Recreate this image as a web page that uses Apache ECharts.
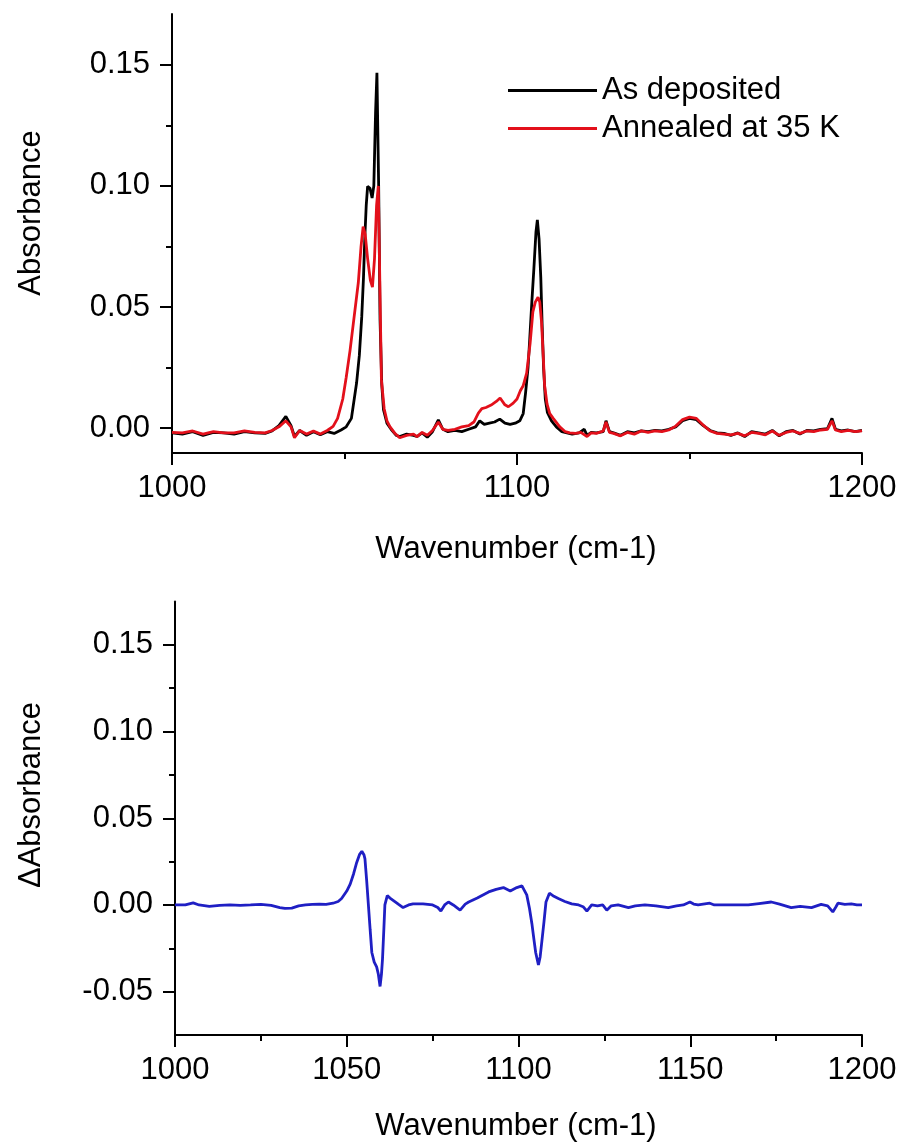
<!DOCTYPE html>
<html><head><meta charset="utf-8">
<script src="https://cdn.jsdelivr.net/npm/echarts@6/dist/echarts.min.js"></script>
<style>html,body{margin:0;padding:0;background:#fff}#c{width:907px;height:1144px}</style>
</head><body><div id="c"></div><script>
// ---- data ----
const asDepWn = [1000,1003,1006,1009,1012,1015,1018,1021,1024,1027,1029,1031,1033,1034.5,1035.5,1037,1039,1041,1043,1045,1047,1049,1050.5,1052,1053.5,1054.3,1055,1055.5,1055.9,1056.3,1056.7,1057.4,1058,1058.5,1059,1059.4,1059.9,1060.3,1060.8,1061.3,1062.3,1063.5,1065,1066,1068,1070,1071,1072.5,1074,1075.5,1077.2,1078.5,1080,1082,1084,1086,1088,1089.2,1090.5,1092,1093.5,1095,1096.5,1098,1099.5,1100.8,1101.8,1102.5,1103.2,1103.7,1104.3,1104.9,1105.5,1105.9,1106.4,1106.9,1107.3,1107.7,1108.2,1108.8,1110,1111.4,1113,1114.5,1116,1118,1119.5,1120.3,1121.5,1123,1125,1125.8,1126.8,1128,1130,1132,1134,1136,1138,1140,1142,1144,1146,1148,1150,1152,1154,1156,1158,1160,1162,1164,1166,1168,1170,1172,1174,1176,1178,1180,1182,1184,1186,1188,1190,1191.3,1192.3,1194,1196,1198,1200];
const asDepAbs = [-0.002,-0.0025,-0.0015,-0.003,-0.0018,-0.002,-0.0025,-0.0015,-0.002,-0.0022,-0.0012,0.001,0.0048,0.001,-0.0035,-0.001,-0.003,-0.0015,-0.0028,-0.0015,-0.0022,-0.0008,0.0005,0.004,0.0186,0.03,0.046,0.062,0.079,0.092,0.0998,0.099,0.095,0.1,0.13,0.1467,0.1,0.045,0.018,0.0076,0.002,-0.0005,-0.003,-0.0035,-0.0025,-0.003,-0.0035,-0.002,-0.0038,-0.0015,0.0034,-0.0005,-0.0015,-0.001,-0.0015,-0.0005,0.0005,0.003,0.0015,0.002,0.0025,0.0037,0.002,0.0015,0.002,0.003,0.006,0.0147,0.025,0.037,0.052,0.066,0.081,0.086,0.078,0.062,0.042,0.025,0.012,0.0065,0.003,0.0005,-0.0015,-0.002,-0.0025,-0.002,-0.0005,-0.003,-0.0018,-0.002,-0.0015,0.003,-0.0015,-0.002,-0.003,-0.0015,-0.002,-0.0012,-0.0015,-0.001,-0.0012,-0.0005,0.0005,0.003,0.004,0.0035,0.001,-0.001,-0.002,-0.0022,-0.003,-0.002,-0.0035,-0.0015,-0.002,-0.0025,-0.001,-0.0032,-0.0015,-0.001,-0.0025,-0.001,-0.0012,-0.0005,-0.0002,0.004,-0.0005,-0.0012,-0.0008,-0.0015,-0.001];

const annealWn = [1000,1003,1006,1009,1012,1015,1018,1021,1024,1027,1029,1031,1033,1034.5,1035.5,1037,1039,1041,1043,1045,1046.7,1048,1049.5,1050.5,1051.6,1052.8,1054,1054.8,1055.4,1056,1056.7,1057.5,1058.1,1058.7,1059.3,1059.8,1060.3,1060.7,1061.5,1062.3,1063.2,1064.5,1066,1068,1070,1071,1072.5,1074,1075.5,1077.2,1078.5,1080,1082,1084,1086,1087.5,1088.8,1089.8,1091,1092.5,1094,1095.1,1096.5,1097.5,1098.9,1100,1101,1101.8,1102.8,1103.8,1104.6,1105.3,1106.1,1106.6,1107.1,1107.6,1108,1108.7,1109.5,1110.5,1112.4,1114,1115.3,1117,1118.5,1120.3,1121.5,1123,1125,1125.8,1126.8,1128,1130,1132,1134,1136,1138,1140,1142,1144,1146,1148,1150,1152,1154,1156,1158,1160,1162,1164,1166,1168,1170,1172,1174,1176,1178,1180,1182,1184,1186,1188,1190,1191.3,1192.3,1194,1196,1198,1200];
const annealAbs = [-0.0018,-0.002,-0.0012,-0.0025,-0.0015,-0.002,-0.002,-0.0012,-0.0018,-0.002,-0.001,0.0005,0.003,0.0005,-0.004,-0.001,-0.0025,-0.0012,-0.0025,-0.001,0.0007,0.004,0.012,0.021,0.032,0.046,0.06,0.075,0.0832,0.08,0.07,0.061,0.0582,0.07,0.092,0.1,0.055,0.02,0.008,0.003,0.0005,-0.002,-0.004,-0.003,-0.0025,-0.0035,-0.0018,-0.003,-0.001,0.0025,-0.0005,-0.001,-0.0005,0.0005,0.001,0.0025,0.0062,0.008,0.0085,0.0095,0.011,0.0124,0.0096,0.0088,0.0103,0.012,0.0155,0.0175,0.0227,0.035,0.048,0.052,0.054,0.052,0.044,0.03,0.0176,0.01,0.006,0.004,0.0005,-0.0015,-0.002,-0.0022,-0.0018,-0.0035,-0.002,-0.0022,-0.0012,0.0025,-0.0018,-0.0022,-0.0032,-0.0018,-0.0025,-0.0012,-0.0018,-0.0012,-0.0015,-0.0008,0.0008,0.0035,0.0045,0.004,0.0012,-0.0012,-0.0022,-0.0025,-0.0028,-0.0022,-0.0032,-0.0018,-0.0022,-0.0028,-0.0012,-0.003,-0.0018,-0.0012,-0.0022,-0.0012,-0.0015,-0.0008,-0.0005,0.003,-0.0008,-0.0015,-0.001,-0.0015,-0.0012];

const diffWn = [1000,1003,1005.3,1007,1010,1013,1016,1019,1022,1025,1028,1030.5,1032,1034,1036,1038,1040,1042,1044,1046,1047.5,1048.5,1050,1051,1052,1052.9,1053.7,1054.4,1055,1055.3,1055.8,1056.3,1056.8,1057.3,1058,1058.7,1059.2,1059.7,1060.1,1060.4,1060.8,1061.1,1061.8,1062.6,1063.5,1065,1066.4,1068,1069.3,1072.2,1075,1076.5,1077.4,1078.5,1079.6,1081,1083,1084.5,1085.5,1088,1091.3,1093.5,1095.6,1097.6,1099.5,1101,1102.4,1103.2,1103.9,1104.5,1105,1105.8,1106.3,1106.8,1107.4,1108,1109,1110.3,1111.6,1113.5,1115.5,1117.5,1118.8,1119.9,1121.3,1123,1124.5,1125.7,1127,1129,1132,1134,1136.8,1140,1143.6,1146,1148,1149.9,1151,1152.3,1155.7,1157,1159.1,1163,1166.9,1170,1173.6,1176,1179.4,1182,1185.3,1188.1,1190,1191.5,1192.3,1193,1195,1196.9,1198.5,1200];
const diffAbs = [0,0,0.0012,0,-0.0008,-0.0003,0,-0.0002,0,0.0003,-0.0003,-0.0015,-0.002,-0.0018,-0.0005,0,0.0003,0.0005,0.0003,0.001,0.002,0.0037,0.008,0.012,0.018,0.0245,0.029,0.031,0.029,0.0266,0.014,0,-0.014,-0.0274,-0.033,-0.0357,-0.04,-0.047,-0.04,-0.0315,-0.014,0,0.0054,0.004,0.0027,0.0005,-0.0015,0,0.0006,0.0006,0,-0.0015,-0.0035,0,0.0017,0,-0.003,0.0005,0.0017,0.004,0.0075,0.009,0.01,0.008,0.01,0.011,0.0058,-0.002,-0.0108,-0.02,-0.0274,-0.0346,-0.03,-0.021,-0.01,0.0017,0.0068,0.005,0.0037,0.002,0.0006,0,-0.001,-0.0035,0,-0.0005,0,-0.003,-0.0005,0,-0.0015,-0.0005,0,-0.0005,-0.0015,-0.0005,0,0.0017,0.0005,0,0.001,0,0,0,0,0.0008,0.0017,0.0005,-0.0015,-0.0008,-0.0015,0.0003,-0.0005,-0.004,-0.0015,0.001,0.0003,0.0006,0,0];

const topYLabels = [0, 0.05, 0.10, 0.15];
const topYMinor = [0.025, 0.075, 0.125];
const botYLabels = [-0.05, 0, 0.05, 0.10, 0.15];
const botYMinor = [-0.025, 0.025, 0.075, 0.125];
const legendNames = ['As deposited', 'Annealed at 35 K'];

// ---- chart ----
const FONT = "'Liberation Sans', Arial, sans-serif";
const zip = (a, b) => a.map((x, i) => [x, b[i]]);
const axLine = {show: true, onZero: false, lineStyle: {color: '#000', width: 2}};
const tickStyle = {color: '#000', width: 2};
const lab = {fontSize: 31, color: '#000', fontFamily: FONT};

function xAx(grid, interval) {
  return {type: 'value', gridIndex: grid, min: 1000, max: 1200, interval: interval,
    axisLine: axLine,
    axisTick: {show: true, inside: false, length: 12, lineStyle: tickStyle},
    minorTick: {show: true, splitNumber: 2, length: 6, lineStyle: tickStyle},
    axisLabel: Object.assign({margin: 20, showMinLabel: true, showMaxLabel: true, formatter: v => String(v)}, lab),
    splitLine: {show: false}, minorSplitLine: {show: false}};
}
function yAx(grid, min, max, labels) {
  return {type: 'value', gridIndex: grid, position: 'left', min: min, max: max,
    axisLine: axLine,
    axisTick: {show: true, inside: false, length: 12, lineStyle: tickStyle, customValues: labels},
    axisLabel: Object.assign({margin: 22, customValues: labels, formatter: v => v.toFixed(2)}, lab),
    splitLine: {show: false}};
}
function yMinor(grid, min, max, vals) {
  return {type: 'value', gridIndex: grid, position: 'left', offset: 0, min: min, max: max,
    axisLine: {show: false, onZero: false},
    axisTick: {show: true, inside: false, length: 6, lineStyle: tickStyle, customValues: vals},
    axisLabel: {show: false},
    splitLine: {show: false}};
}
function title(text, x, y, rot) {
  return {type: 'text', x: x, y: y, rotation: rot || 0, silent: true,
    style: {text: text, fontSize: 31, fontFamily: FONT, fill: '#000',
      textAlign: 'center', textVerticalAlign: 'middle', verticalAlign: 'middle'}};
}

const BLACK = '#000000', RED = '#e3101b', BLUE = '#1f1fc4';
const chart = echarts.init(document.getElementById('c'), null, {renderer: 'canvas'});
chart.setOption({
  backgroundColor: '#fff',
  animation: false,
  grid: [
    {left: 172, top: 14, width: 690, height: 439},
    {left: 175, top: 601.5, width: 687, height: 433.5}
  ],
  xAxis: [xAx(0, 100), xAx(1, 50)],
  yAxis: [
    yAx(0, -0.0103, 0.171, topYLabels),
    yMinor(0, -0.0103, 0.171, topYMinor),
    yAx(1, -0.075, 0.175, botYLabels),
    yMinor(1, -0.075, 0.175, botYMinor)
  ],
  legend: {
    orient: 'vertical', left: 503, top: 70, itemWidth: 89, itemHeight: 3, itemGap: 7,
    icon: 'rect',
    data: [
      {name: legendNames[0], icon: 'rect', itemStyle: {color: BLACK}},
      {name: legendNames[1], icon: 'rect', itemStyle: {color: RED}}
    ],
    textStyle: {fontSize: 31, color: '#000', fontFamily: FONT}
  },
  graphic: [
    title('Absorbance', 31, 213, Math.PI / 2),
    title('Wavenumber (cm-1)', 516, 549, 0),
    title('\u0394Absorbance', 31, 795, Math.PI / 2),
    title('Wavenumber (cm-1)', 516, 1126, 0)
  ],
  series: [
    {name: legendNames[0], type: 'line', xAxisIndex: 0, yAxisIndex: 0, symbol: 'none',
      lineStyle: {color: BLACK, width: 2.8}, itemStyle: {color: BLACK}, data: zip(asDepWn, asDepAbs)},
    {name: legendNames[1], type: 'line', xAxisIndex: 0, yAxisIndex: 0, symbol: 'none',
      lineStyle: {color: RED, width: 2.8}, itemStyle: {color: RED}, data: zip(annealWn, annealAbs)},
    {name: 'Difference', type: 'line', xAxisIndex: 1, yAxisIndex: 2, symbol: 'none',
      lineStyle: {color: BLUE, width: 2.8}, itemStyle: {color: BLUE}, data: zip(diffWn, diffAbs)}
  ]
});
</script></body></html>
